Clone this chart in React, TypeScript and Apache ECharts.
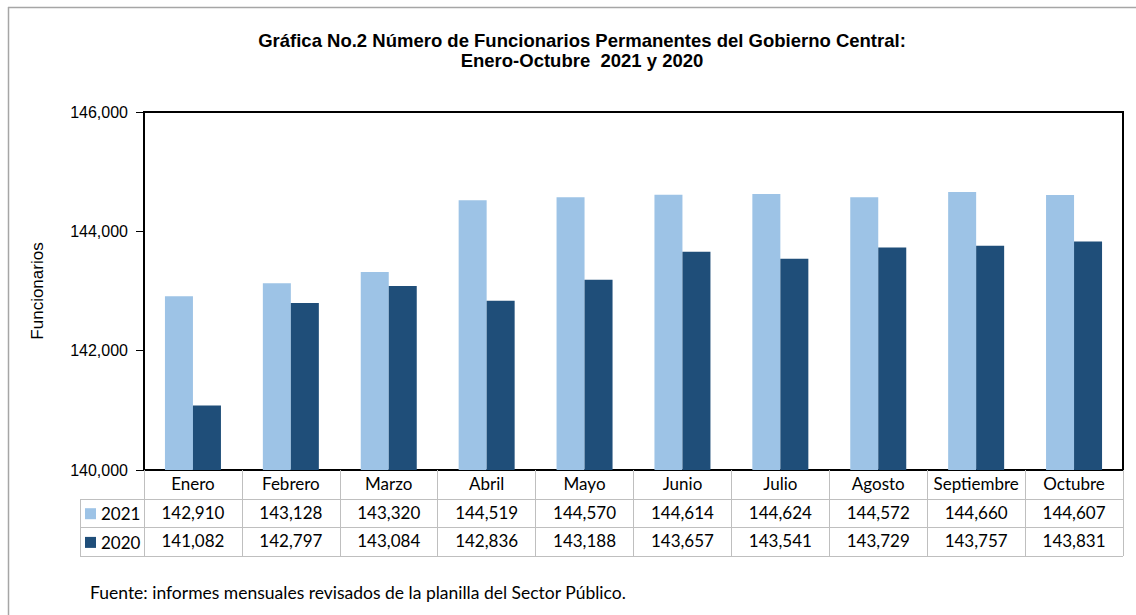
import React, { useEffect, useRef } from "react";
import * as echarts from "echarts";

const months = ["Enero", "Febrero", "Marzo", "Abril", "Mayo", "Junio", "Julio", "Agosto", "Septiembre", "Octubre"];
const values2021 = [142910, 143128, 143320, 144519, 144570, 144614, 144624, 144572, 144660, 144607];
const values2020 = [141082, 142797, 143084, 142836, 143188, 143657, 143541, 143729, 143757, 143831];
const seriesNames = ["2021", "2020"];
const colors = ["#9DC3E6", "#1F4E79"];

const fmt = (v: number) => v.toLocaleString("en-US");

const G_LEFT = 144;
const G_TOP = 112;
const G_W = 979;
const G_H = 358;
const ROW_H = 28.7;
const TABLE_FONT = "Lato, 'Open Sans', sans-serif";
const ARIAL = "'Liberation Sans', Arial, sans-serif";

export default function App() {
  const ref = useRef<HTMLDivElement>(null);
  useEffect(() => {
    if (!ref.current) return;
    const chart = echarts.init(ref.current, undefined, { renderer: "svg" });
    const bottom = G_TOP + G_H;
    const gray = "#BFBFBF";
    const valueAxisLabel = (arr: number[]) => ({
      show: true,
      interval: 0,
      margin: 5,
      fontFamily: TABLE_FONT,
      fontSize: 17,
      color: "#000",
      formatter: (_: string, i: number) => fmt(arr[i]),
    });
    const tableLines: any[] = [];
    for (let r = 1; r <= 3; r++) {
      const y = Math.round(bottom + r * ROW_H) + 0.5;
      tableLines.push({
        type: "line",
        shape: { x1: 80, y1: y, x2: G_LEFT + G_W, y2: y },
        style: { stroke: gray, lineWidth: 1 },
      });
    }
    tableLines.push({
      type: "line",
      shape: { x1: 80.5, y1: Math.round(bottom + ROW_H), x2: 80.5, y2: Math.round(bottom + 3 * ROW_H) + 1 },
      style: { stroke: gray, lineWidth: 1 },
    });
    const legendFor = (i: number) => ({
      orient: "horizontal",
      left: 85,
      top: bottom + (i + 1) * ROW_H + 14.5 - 8,
      padding: 0,
      itemWidth: 11,
      itemHeight: 11,
      itemGap: 0,
      icon: "rect",
      selectedMode: false,
      data: [seriesNames[i]],
      textStyle: { fontFamily: TABLE_FONT, fontSize: 17, lineHeight: 16, color: "#000" },
    });
    chart.setOption({
      animation: false,
      backgroundColor: "#fff",
      title: {
        text: "Gráfica No.2 Número de Funcionarios Permanentes del Gobierno Central:\nEnero-Octubre  2021 y 2020",
        left: 577,
        top: 25,
        textAlign: "center",
        textStyle: {
          fontFamily: ARIAL,
          fontWeight: "bold",
          fontSize: 18.5,
          lineHeight: 20,
          color: "#000",
        },
      },
      legend: [legendFor(0), legendFor(1)],
      grid: {
        left: G_LEFT,
        top: G_TOP,
        width: G_W,
        height: G_H,
        show: true,
        borderColor: "#000",
        borderWidth: 2,
        backgroundColor: "transparent",
      },
      xAxis: [
        {
          type: "category",
          data: months,
          position: "bottom",
          axisLine: { show: true, lineStyle: { color: "#000", width: 2 } },
          axisTick: { show: true, length: Math.round(3 * ROW_H), lineStyle: { color: gray, width: 1 } },
          axisLabel: { interval: 0, margin: 5, fontFamily: TABLE_FONT, fontSize: 17, color: "#000" },
        },
        {
          type: "category",
          data: months,
          position: "bottom",
          offset: ROW_H,
          axisLine: { show: false },
          axisTick: { show: false },
          axisLabel: valueAxisLabel(values2021),
        },
        {
          type: "category",
          data: months,
          position: "bottom",
          offset: 2 * ROW_H,
          axisLine: { show: false },
          axisTick: { show: false },
          axisLabel: valueAxisLabel(values2020),
        },
      ],
      yAxis: {
        type: "value",
        min: 140000,
        max: 146000,
        interval: 2000,
        name: "Funcionarios",
        nameLocation: "middle",
        nameGap: 98,
        nameTextStyle: { fontFamily: ARIAL, fontSize: 17, color: "#000" },
        axisLine: { show: true, lineStyle: { color: "#000", width: 2 } },
        axisTick: { show: true, length: 8, lineStyle: { color: "#000", width: 1 } },
        splitLine: { show: false },
        axisLabel: {
          margin: 16,
          fontFamily: ARIAL,
          fontSize: 16,
          color: "#000",
          formatter: (v: number) => fmt(v),
        },
      },
      series: [
        {
          name: seriesNames[0],
          type: "bar",
          data: values2021,
          barWidth: 28,
          barGap: "0%",
          itemStyle: { color: colors[0] },
        },
        {
          name: seriesNames[1],
          type: "bar",
          data: values2020,
          barWidth: 28,
          barGap: "0%",
          itemStyle: { color: colors[1] },
        },
      ],
      graphic: [
        {
          type: "line",
          shape: { x1: 8, y1: 7.5, x2: 1136, y2: 7.5 },
          style: { stroke: "#A6A6A6", lineWidth: 1.5 },
        },
        {
          type: "line",
          shape: { x1: 8.5, y1: 7, x2: 8.5, y2: 615 },
          style: { stroke: "#A6A6A6", lineWidth: 1.5 },
        },
        ...tableLines,
        {
          type: "text",
          left: 90,
          top: 583,
          style: {
            text: "Fuente: informes mensuales revisados de la planilla del Sector Público.",
            fontFamily: TABLE_FONT,
            fontSize: 17.5,
            fill: "#000",
          },
        },
      ],
    });
    return () => chart.dispose();
  }, []);
  return <div ref={ref} style={{ position: "fixed", left: 0, top: 0, width: 1136, height: 615 }} />;
}
